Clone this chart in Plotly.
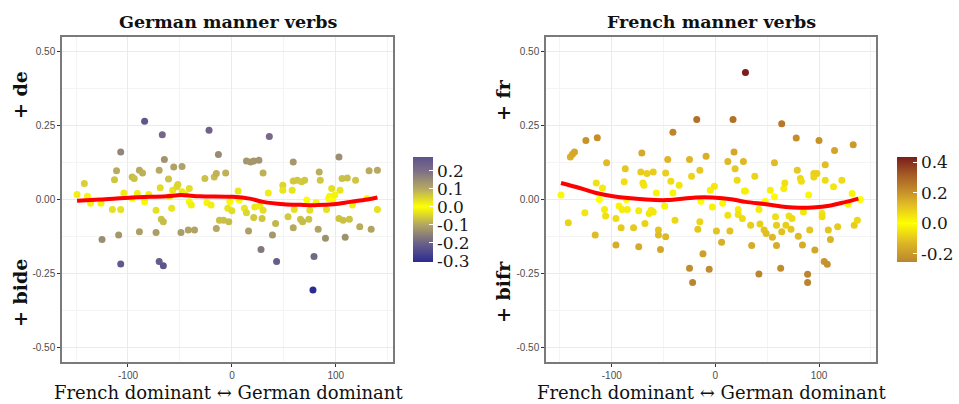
import plotly.graph_objects as go

# ---------------- data: German manner verbs ----------------
de_x = [-149, -142, -139, -136, -125, -126, -115, -113, -111, -109, -107, -107, -107, -104,
        -96, -94, -96, -91, -89, -89, -86, -84, -84, -80, -73, -73, -70, -70, -69, -68,
        -67, -65, -66, -66, -61, -60, -58, -57, -56, -53, -52, -49, -48, -48, -45, -42,
        -41, -41, -39, -36, -26, -24, -22, -20, -17, -15, -15, -13, -12, -8, -6, -4, -3,
        -2, 0, 6, 7, 12, 14, 14, 16, 18, 21, 21, 22, 26, 27, 28, 29, 30, 30, 35, 36, 39,
        42, 43, 49, 49, 54, 58, 59, 59, 59, 60, 63, 66, 67, 68, 70, 72, 74, 75, 78, 79,
        81, 83, 84, 85, 90, 91, 93, 94, 96, 97, 99, 103, 103, 104, 106, 107, 109, 111,
        113, 116, 119, 123, 130, 132, 134, 140, 140]
de_y = [0.017, 0.054, 0.011, -0.013, -0.135, -0.013, -0.034, 0.067, 0.097, -0.120, 0.161,
        -0.034, -0.218, 0.022, 0.076, 0.071, 0.003, 0.020, -0.109, 0.099, 0.090, -0.008,
        0.265, 0.017, -0.036, -0.112, -0.210, 0.099, 0.040, -0.067, 0.219, 0.135, -0.075,
        -0.224, 0.069, 0.009, -0.030, 0.031, 0.110, 0.043, 0.051, -0.112, 0.112, 0.026,
        0.018, -0.103, 0.037, -0.008, -0.019, -0.103, 0.071, -0.011, 0.234, -0.019, 0.076,
        0.088, -0.098, 0.152, -0.070, -0.070, 0.090, -0.030, -0.075, -0.008, -0.038, 0.029,
        -0.002, -0.030, -0.045, 0.130, -0.107, 0.127, 0.130, -0.061, -0.025, 0.133, -0.022,
        -0.169, -0.064, 0.090, -0.036, 0.022, 0.213, -0.120, -0.081, -0.210, 0.048, 0.031,
        -0.058, 0.031, 0.127, 0.063, -0.096, -0.034, 0.065, -0.067, 0.060, -0.075, 0.065,
        -0.002, -0.067, -0.036, -0.306, -0.193, -0.011, -0.101, 0.093, 0.065, -0.131,
        -0.034, 0.003, 0.011, 0.037, 0.000, 0.015, 0.144, -0.064, 0.031, 0.071, -0.070,
        -0.128, 0.073, -0.067, -0.019, 0.065, -0.092, 0.003, 0.097, -0.101, 0.099, -0.034]
de_smooth_x = [-149, -127, -95, -63, -49, -31, 1, 17, 30, 50, 66, 82, 98, 114, 130, 140]
de_smooth_y = [-0.004, 0.000, 0.007, 0.011, 0.015, 0.011, 0.009, 0.003, -0.008, -0.016,
               -0.018, -0.019, -0.016, -0.008, 0.000, 0.007]

# ---------------- data: French manner verbs ----------------
fr_x = [-149, -142, -140, -138, -136, -126, -125, -116, -115, -114, -112, -109, -107, -106,
        -105, -96, -96, -93, -91, -90, -88, -87, -86, -85, -79, -74, -74, -72, -71, -70,
        -69, -68, -66, -64, -62, -60, -60, -57, -55, -55, -53, -49, -48, -48, -46, -43,
        -41, -41, -39, -35, -25, -25, -23, -22, -18, -17, -15, -15, -14, -12, -9, -6, -5,
        -3, -1, 1, 6, 7, 12, 12, 14, 17, 18, 19, 21, 22, 22, 26, 27, 28, 29, 29, 34, 35,
        38, 42, 42, 43, 47, 48, 49, 53, 55, 57, 57, 58, 59, 59, 63, 64, 64, 66, 67, 68,
        71, 73, 74, 78, 79, 80, 82, 83, 84, 85, 89, 89, 90, 91, 95, 95, 96, 98, 100, 103,
        103, 105, 106, 106, 108, 109, 111, 114, 115, 118, 122, 128, 132, 133, 134, 137, 140]
fr_y = [0.015, -0.079, 0.144, 0.153, 0.161, -0.045, 0.200, -0.120, 0.056, 0.209, 0.000,
        0.039, -0.034, -0.056, 0.124, -0.064, -0.154, -0.022, -0.096, -0.034, 0.060, 0.104,
        0.000, -0.034, -0.096, -0.038, -0.160, 0.093, 0.157, 0.056, 0.048, -0.081, 0.088,
        -0.047, -0.036, 0.093, -0.042, 0.022, -0.103, -0.120, -0.169, -0.022, 0.090, -0.126,
        0.135, 0.062, 0.228, 0.022, -0.070, 0.048, -0.233, 0.135, 0.079, -0.281, 0.271,
        -0.101, 0.099, -0.075, -0.006, -0.184, 0.146, -0.236, 0.031, -0.025, 0.045, -0.107,
        -0.145, -0.013, 0.129, -0.053, -0.107, 0.271, 0.161, 0.104, 0.065, -0.034, -0.051,
        -0.064, 0.129, 0.029, 0.430, 0.029, -0.087, -0.156, 0.079, -0.034, -0.252, -0.083,
        -0.103, -0.006, -0.115, 0.031, -0.128, 0.009, 0.124, -0.058, -0.156, -0.087, -0.233,
        0.256, -0.109, 0.037, 0.056, -0.087, -0.056, -0.101, -0.064, 0.208, 0.099, -0.124,
        0.071, 0.062, -0.154, -0.042, -0.253, -0.281, 0.015, -0.103, 0.088, 0.076, -0.171,
        0.088, 0.200, -0.047, -0.058, -0.210, 0.118, 0.065, -0.219, -0.103, -0.135, 0.043,
        0.166, -0.092, 0.065, -0.016, 0.020, 0.185, -0.087, -0.070, 0.000]
fr_smooth_x = [-149, -131, -115, -99, -67, -47, -19, -3, 17, 29, 49, 68, 81, 94, 110, 126, 138]
fr_smooth_y = [0.056, 0.039, 0.022, 0.011, 0.000, -0.002, 0.007, 0.007, 0.000, -0.008,
               -0.016, -0.025, -0.028, -0.027, -0.021, -0.008, 0.003]

de_cbar_ticks = [0.2, 0.1, 0.0, -0.1, -0.2, -0.3]
fr_cbar_ticks = [0.4, 0.2, 0.0, -0.2]
x_ticks = [-100, 0, 100]
y_ticks = [-0.5, -0.25, 0.0, 0.25, 0.5]
y_ticklabels = ["-0.50", "-0.25", "0.00", "0.25", "0.50"]

# ---------------- figure ----------------
W, H = 959, 404
def px(x):
    return x / W
def py(y):
    return 1 - y / H

SERIF = "DejaVu Serif"
SANS = "Liberation Sans"

fig = go.Figure()

fig.add_trace(go.Scatter(x=de_x, y=de_y, mode="markers", xaxis="x", yaxis="y",
                         marker=dict(size=7, color=de_y, coloraxis="coloraxis"),
                         showlegend=False, hoverinfo="x+y"))
fig.add_trace(go.Scatter(x=de_smooth_x, y=de_smooth_y, mode="lines", xaxis="x", yaxis="y",
                         line=dict(color="#ff0000", width=4, shape="spline"),
                         showlegend=False))
fig.add_trace(go.Scatter(x=fr_x, y=fr_y, mode="markers", xaxis="x2", yaxis="y2",
                         marker=dict(size=7, color=fr_y, coloraxis="coloraxis2"),
                         showlegend=False, hoverinfo="x+y"))
fig.add_trace(go.Scatter(x=fr_smooth_x, y=fr_smooth_y, mode="lines", xaxis="x2", yaxis="y2",
                         line=dict(color="#ff0000", width=4, shape="spline"),
                         showlegend=False))

ydom = [py(362), py(37)]
common_x = dict(range=[-163.5, 155], tickvals=x_ticks, ticktext=[str(v) for v in x_ticks],
                showgrid=True, gridcolor="#ebebeb", gridwidth=1,
                minor=dict(dtick=50, tick0=0, showgrid=True, gridcolor="#f4f4f4", gridwidth=0.6),
                zeroline=False, showline=True, mirror=True, linecolor="#7a7a7a", linewidth=1.5,
                ticks="outside", ticklen=3, tickcolor="#333333",
                tickfont=dict(family=SANS, size=10, color="#4d4d4d"), fixedrange=True)
common_y = dict(range=[-0.55, 0.55], tickvals=y_ticks, ticktext=y_ticklabels,
                showgrid=True, gridcolor="#ebebeb", gridwidth=1,
                minor=dict(dtick=0.125, tick0=0, showgrid=True, gridcolor="#f4f4f4", gridwidth=0.6),
                zeroline=False, showline=True, mirror=True, linecolor="#7a7a7a", linewidth=1.5,
                ticks="outside", ticklen=3, tickcolor="#333333",
                tickfont=dict(family=SANS, size=10, color="#4d4d4d"), fixedrange=True)

de_cmin, de_cmax = -0.305, 0.275
fr_cmin, fr_cmax = -0.253, 0.433

def frac(v, lo, hi):
    return (v - lo) / (hi - lo)

de_scale = [
    [0.0, "#2b2b92"],
    [frac(-0.2, de_cmin, de_cmax), "#6c6289"],
    [frac(-0.1, de_cmin, de_cmax), "#b2a563"],
    [frac(0.0, de_cmin, de_cmax), "#ffff00"],
    [frac(0.1, de_cmin, de_cmax), "#b6a862"],
    [frac(0.2, de_cmin, de_cmax), "#7c6e88"],
    [1.0, "#5f528c"],
]
fr_scale = [
    [0.0, "#bb8530"],
    [frac(-0.13, fr_cmin, fr_cmax), "#dcb626"],
    [frac(0.0, fr_cmin, fr_cmax), "#ffff00"],
    [frac(0.12, fr_cmin, fr_cmax), "#e2bd26"],
    [frac(0.2, fr_cmin, fr_cmax), "#c8922a"],
    [frac(0.32, fr_cmin, fr_cmax), "#a45a24"],
    [1.0, "#7a1c1c"],
]

cb_common = dict(thickness=20, thicknessmode="pixels", len=105 / H, lenmode="fraction",
                 y=py(209.5), yanchor="middle", xanchor="left", xpad=0, ypad=0,
                 outlinewidth=0, ticks="inside", ticklen=4, tickcolor="white",
                 tickfont=dict(family=SERIF, size=17, color="#1a1a1a"))

fig.update_layout(
    width=W, height=H,
    margin=dict(l=0, r=0, t=0, b=0),
    paper_bgcolor="white", plot_bgcolor="white",
    xaxis=dict(domain=[px(62), px(393)], anchor="y", **common_x),
    yaxis=dict(domain=ydom, anchor="x", **common_y),
    xaxis2=dict(domain=[px(546), px(876)], anchor="y2", **common_x),
    yaxis2=dict(domain=ydom, anchor="x2", **common_y),
    coloraxis=dict(cmin=de_cmin, cmax=de_cmax, colorscale=de_scale,
                   colorbar=dict(x=px(413), tickvals=de_cbar_ticks,
                                 ticktext=[f"{v:.1f}" for v in de_cbar_ticks], **cb_common)),
    coloraxis2=dict(cmin=fr_cmin, cmax=fr_cmax, colorscale=fr_scale,
                    colorbar=dict(x=px(897), tickvals=fr_cbar_ticks,
                                  ticktext=[f"{v:.1f}" for v in fr_cbar_ticks], **cb_common)),
    showlegend=False,
)

ann = []
def text(x, y, s, size, bold=False, angle=0):
    ann.append(dict(x=px(x), y=py(y), xref="paper", yref="paper", text=(f"<b>{s}</b>" if bold else s),
                    showarrow=False, xanchor="center", yanchor="middle", textangle=angle,
                    font=dict(family=SERIF, size=size, color="#111111")))

text(228, 22, "German manner verbs", 17.5, bold=True)
text(711, 22, "French manner verbs", 17.5, bold=True)
text(228, 392, "French dominant ↔ German dominant", 18)
text(711, 392, "French dominant ↔ German dominant", 18)
text(20, 95, "+ de", 19, bold=True, angle=-90)
text(20, 293, "+ bide", 19, bold=True, angle=-90)
text(503, 100, "+ fr", 19, bold=True, angle=-90)
text(503, 292, "+ bifr", 19, bold=True, angle=-90)
fig.update_layout(annotations=ann)

fig.write_html("out.html")
